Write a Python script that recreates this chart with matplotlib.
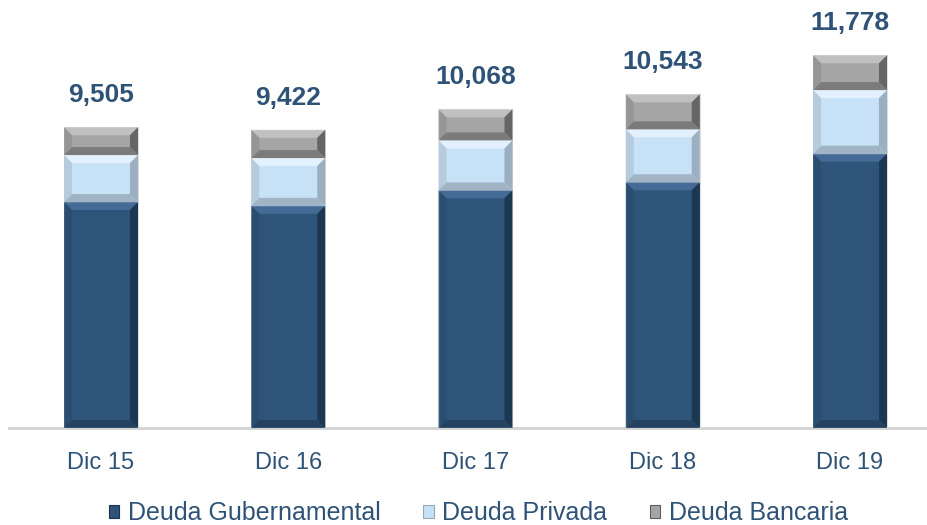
import numpy as np
import matplotlib.pyplot as plt
from matplotlib.patches import Polygon, Patch

plt.rcParams['font.family'] = ['Liberation Sans', 'DejaVu Sans']

categorias = ['Dic 15', 'Dic 16', 'Dic 17', 'Dic 18', 'Dic 19']
totales = [9505, 9422, 10068, 10543, 11778]
gubernamental = [7140, 7020, 7510, 7765, 8668]
privada = [1485, 1510, 1578, 1672, 2010]
bancaria = [880, 892, 980, 1106, 1100]
series = ['Deuda Gubernamental', 'Deuda Privada', 'Deuda Bancaria']

# base, top highlight, left, right, bottom
estilos = [
    ('#2E5579', '#466E99', '#2A4D70', '#1A344D', '#24425F'),
    ('#C7E1F7', '#E6F3FE', '#B5CADB', '#97AABA', '#9DB0C0'),
    ('#A5A5A5', '#C4C4C4', '#959595', '#5E5E5E', '#777777'),
]
txt = '#2F5377'

fig = plt.figure(figsize=(9.27, 5.25), dpi=100)
ax = fig.add_axes([9/927, 97/525, 918/927, 428/525])

x = np.arange(len(categorias))
ancho = 0.395
bottom = np.zeros(len(x))
bx = 8/187.25
by = 8*31.6

for vals, est in zip([gubernamental, privada, bancaria], estilos):
    bars = ax.bar(x, vals, ancho, bottom=bottom, color=est[0],
                  edgecolor='#DDDDDD', linewidth=0.8, zorder=2)
    for r in bars:
        x0, y0 = r.get_x(), r.get_y()
        x1, y1 = x0 + r.get_width(), y0 + r.get_height()
        polys = [
            ([(x0, y1), (x1, y1), (x1-bx, y1-by), (x0+bx, y1-by)], est[1]),
            ([(x0, y0), (x0, y1), (x0+bx, y1-by), (x0+bx, y0+by)], est[2]),
            ([(x1, y0), (x1, y1), (x1-bx, y1-by), (x1-bx, y0+by)], est[3]),
            ([(x0, y0), (x1, y0), (x1-bx, y0+by), (x0+bx, y0+by)], est[4]),
        ]
        for pts, c in polys:
            ax.add_patch(Polygon(pts, closed=True, facecolor=c,
                                 edgecolor='none', alpha=0.9, zorder=3))
    bottom += np.array(vals)

for xi, t in zip(x, totales):
    ax.annotate(f'{t:,}', (xi, t), xytext=(0, 23), textcoords='offset points',
                ha='center', va='center', fontsize=19, fontweight='bold',
                color=txt)

ax.set_xlim((9-101)/187.25, (927-101)/187.25)
ax.set_ylim(0, 428*31.6)
ax.set_xticks(x)
ax.set_xticklabels(categorias, fontsize=17, color=txt)
ax.tick_params(axis='x', length=0, pad=17)
ax.set_yticks([])
for s in ['top', 'right', 'left']:
    ax.spines[s].set_visible(False)
ax.spines['bottom'].set_color('#D3D3D3')
ax.spines['bottom'].set_linewidth(2)

handles = [Patch(facecolor=e[0], edgecolor=e[3], linewidth=0.8) for e in estilos]
leg = fig.legend(handles, series, loc='center', ncol=3,
                 bbox_to_anchor=(0.516, 1 - 513/525), frameon=False, fontsize=18,
                 handlelength=0.42, handleheight=0.42, handletextpad=0.35,
                 columnspacing=1.7, borderpad=0)
for t in leg.get_texts():
    t.set_color(txt)

fig.savefig('out.png', dpi=100)
